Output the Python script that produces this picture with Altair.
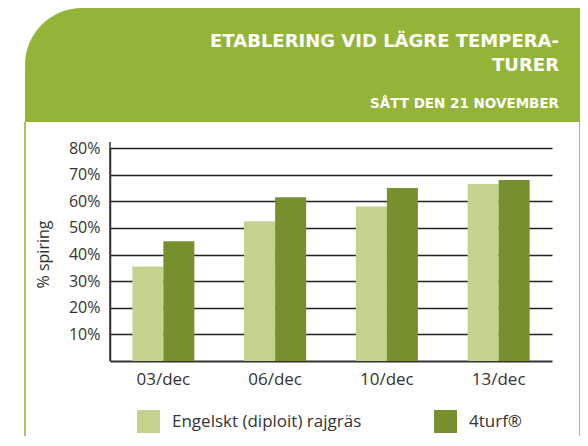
import altair as alt
import pandas as pd

categories = ["03/dec", "06/dec", "10/dec", "13/dec"]
series_names = ["Engelskt (diploit) rajgräs", "4turf®"]
engelskt = [35.5, 52.5, 58.0, 66.5]
turf = [45.0, 61.5, 65.0, 68.0]
y_ticks = [10, 20, 30, 40, 50, 60, 70, 80]
colors = ["#c3d28d", "#77902d"]

title_line1 = "ETABLERING VID LÄGRE TEMPERA-"
title_line2 = "TURER"
subtitle = "SÅTT DEN 21 NOVEMBER"

rows = []
for i, c in enumerate(categories):
    rows.append({"dag": c, "serie": series_names[0], "v": engelskt[i]})
    rows.append({"dag": c, "serie": series_names[1], "v": turf[i]})
df = pd.DataFrame(rows)

W, H = 442, 213
one = pd.DataFrame({"a": [0]})

header = alt.Chart(one).mark_rect(
    color="#94b437", cornerRadiusTopLeft=100
).encode(x=alt.value(-85), x2=alt.value(470), y=alt.value(-140), y2=alt.value(-26))

border_l = alt.Chart(one).mark_rule(color="#a6c563", strokeWidth=2).encode(
    x=alt.value(-85), y=alt.value(-26), y2=alt.value(320))
border_r = alt.Chart(one).mark_rule(color="#a6c563", strokeWidth=2).encode(
    x=alt.value(470), y=alt.value(-26), y2=alt.value(320))

def htext(txt, y, size):
    return alt.Chart(pd.DataFrame({"t": [txt]})).mark_text(
        align="right", baseline="alphabetic", color="white", fontWeight="bold",
        font="DejaVu Sans", fontSize=size
    ).encode(x=alt.value(449), y=alt.value(y), text="t:N")

t1 = htext(title_line1, -101, 18)
t2 = htext(title_line2, -77, 18)
t3 = htext(subtitle, -40, 13.5)

yaxis_line = alt.Chart(one).mark_rule(color="#333333", strokeWidth=1.5).encode(
    x=alt.value(0), y=alt.value(-6), y2=alt.value(H))

bars = alt.Chart(df).mark_bar().encode(
    x=alt.X("dag:N", sort=categories,
            scale=alt.Scale(paddingInner=0.445, paddingOuter=0.2),
            axis=alt.Axis(title=None, labelAngle=0, ticks=False, labelPadding=10,
                          labelFontSize=17, labelFont="Open Sans", labelColor="#333333",
                          domainColor="#333333", domainWidth=2)),
    xOffset=alt.XOffset("serie:N", sort=series_names, scale=alt.Scale(paddingInner=0)),
    y=alt.Y("v:Q", scale=alt.Scale(domain=[0, 80], nice=False),
            axis=alt.Axis(title="% spiring", values=y_ticks, labelExpr="datum.value + '%'",
                          ticks=False, labelPadding=10, labelFontSize=16,
                          labelFont="Open Sans", labelColor="#333333",
                          grid=True, gridColor="#222222", gridWidth=1.5, gridOpacity=1,
                          domainColor="#333333", domainWidth=1.5,
                          titleFont="Open Sans", titleFontSize=16, titleFontWeight="normal",
                          titleColor="#333333", titleAngle=-90, titleX=-67, titleY=106,
                          titleAlign="center", titleBaseline="middle")),
    color=alt.Color("serie:N", sort=series_names,
                    scale=alt.Scale(domain=series_names, range=colors),
                    legend=alt.Legend(title=None, orient="none", legendX=27, legendY=262,
                                      direction="horizontal", columns=2, columnPadding=72,
                                      symbolType="square", symbolSize=529,
                                      symbolStrokeWidth=0, symbolOpacity=1,
                                      labelFont="Open Sans", labelFontSize=17,
                                      labelColor="#333333", labelOffset=12,
                                      labelLimit=400, padding=0)),
)

chart = alt.layer(header, border_l, border_r, t1, t2, t3, bars, yaxis_line).properties(
    width=W, height=H,
    autosize=alt.AutoSizeParams(type="none"),
    padding={"left": 102, "top": 140, "right": 28, "bottom": 75},
).configure_view(stroke=None).configure_axis(grid=False)

chart.save("out.html", embed_options={"renderer": "svg", "actions": False})
